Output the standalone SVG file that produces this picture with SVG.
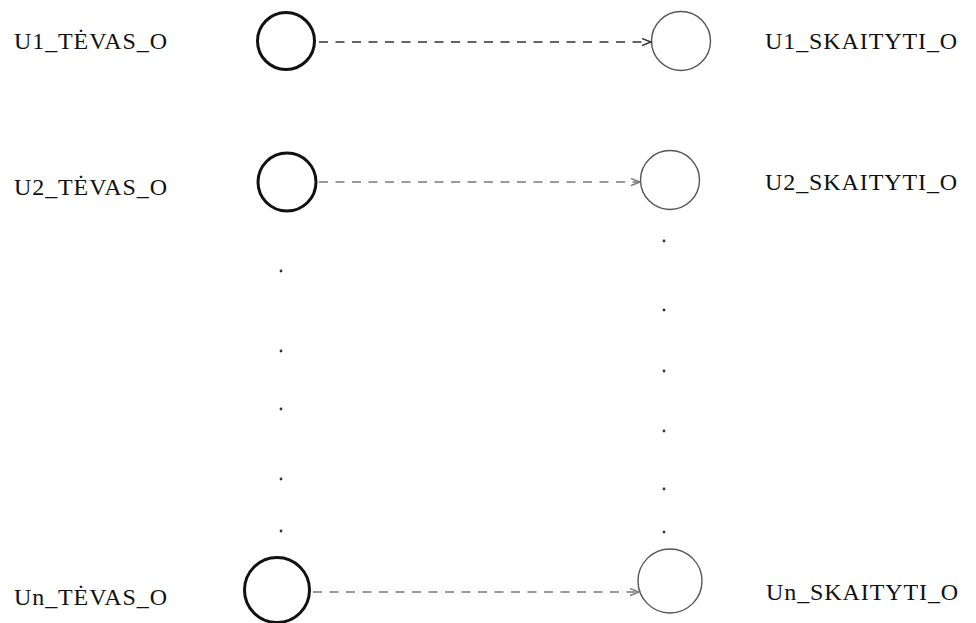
<svg xmlns="http://www.w3.org/2000/svg" width="976" height="623" viewBox="0 0 976 623">
  <style>
    .lbl { font-family: "Liberation Serif", "Times New Roman", serif; font-size: 24px; letter-spacing: 0.9px; fill: #111; }
    .src { fill: none; stroke: #111; stroke-width: 3; }
    .dst { fill: none; stroke: #555; stroke-width: 1.4; }
    .flow { fill: none; stroke-width: 1.7; stroke-dasharray: 9 7.5; }
    .dot { fill: #333; }
  </style>
  <defs>
    <marker id="open-arrow" markerWidth="12" markerHeight="10" refX="9" refY="4" orient="auto" markerUnits="userSpaceOnUse">
      <path d="M0,0.5 L9,4 L0,7.5" fill="none" stroke="context-stroke" stroke-width="1.4"/>
    </marker>
  </defs>

  <!-- source nodes -->
  <g id="u1-tevas">
    <circle class="src" cx="286" cy="41" r="28.5"/>
    <text class="lbl" x="14" y="49">U1_TĖVAS_O</text>
  </g>
  <g id="u2-tevas">
    <circle class="src" cx="287" cy="182" r="29"/>
    <text class="lbl" x="14" y="195">U2_TĖVAS_O</text>
  </g>
  <g id="un-tevas">
    <circle class="src" cx="277" cy="590" r="32.5"/>
    <text class="lbl" x="14" y="605">Un_TĖVAS_O</text>
  </g>

  <!-- target nodes -->
  <g id="u1-skaityti">
    <circle class="dst" cx="681" cy="41" r="29.5"/>
    <text class="lbl" x="765" y="49">U1_SKAITYTI_O</text>
  </g>
  <g id="u2-skaityti">
    <circle class="dst" cx="670" cy="180" r="29.5"/>
    <text class="lbl" x="765" y="190">U2_SKAITYTI_O</text>
  </g>
  <g id="un-skaityti">
    <circle class="dst" cx="670" cy="581" r="32"/>
    <text class="lbl" x="766" y="600">Un_SKAITYTI_O</text>
  </g>

  <!-- ellipsis dots between rows -->
  <g id="left-ellipsis">
    <circle class="dot" cx="281" cy="271" r="1.4"/>
    <circle class="dot" cx="281" cy="351" r="1.4"/>
    <circle class="dot" cx="281" cy="409" r="1.4"/>
    <circle class="dot" cx="281" cy="479" r="1.4"/>
    <circle class="dot" cx="281" cy="531" r="1.4"/>
  </g>
  <g id="right-ellipsis">
    <circle class="dot" cx="664" cy="241" r="1.4"/>
    <circle class="dot" cx="664" cy="310" r="1.4"/>
    <circle class="dot" cx="664" cy="371" r="1.4"/>
    <circle class="dot" cx="664" cy="431" r="1.4"/>
    <circle class="dot" cx="664" cy="489" r="1.4"/>
    <circle class="dot" cx="664" cy="532" r="1.4"/>
  </g>

  <!-- connectors -->
  <g id="connectors">
    <path class="flow" stroke="#333" d="M319,42 H651" marker-end="url(#open-arrow)"/>
    <path class="flow" stroke="#7a7a7a" d="M319,182 H640" marker-end="url(#open-arrow)"/>
    <path class="flow" stroke="#7a7a7a" d="M313,592 H639" marker-end="url(#open-arrow)"/>
  </g>
</svg>
